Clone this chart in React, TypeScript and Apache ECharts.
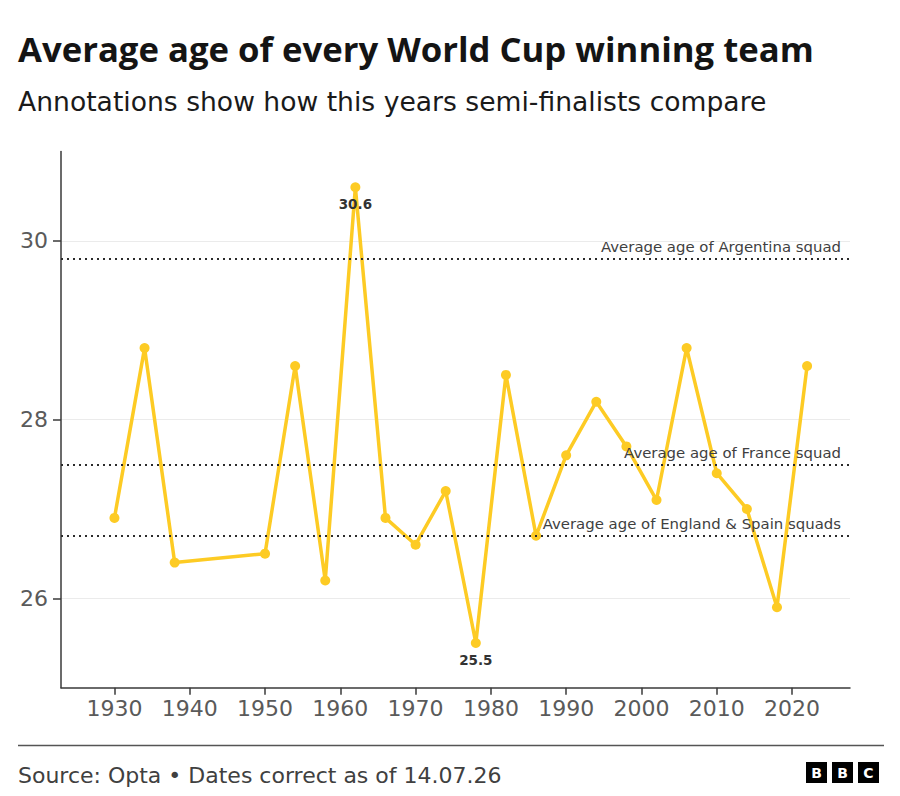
import React, { useEffect, useRef } from "react";
import * as echarts from "echarts";

const years = [1930, 1934, 1938, 1950, 1954, 1958, 1962, 1966, 1970, 1974, 1978, 1982, 1986, 1990, 1994, 1998, 2002, 2006, 2010, 2014, 2018, 2022];
const ages = [26.9, 28.8, 26.4, 26.5, 28.6, 26.2, 30.6, 26.9, 26.6, 27.2, 25.5, 28.5, 26.7, 27.6, 28.2, 27.7, 27.1, 28.8, 27.4, 27.0, 25.9, 28.6];
const labelledYears = [1962, 1978];

const refValues = [29.8, 27.5, 26.7];
const refLabels = ["Average age of Argentina squad", "Average age of France squad", "Average age of England & Spain squads"];

const xTicks = [1930, 1940, 1950, 1960, 1970, 1980, 1990, 2000, 2010, 2020];
const yTicks = [26, 28, 30];

const TITLE = "Average age of every World Cup winning team";
const SUBTITLE = "Annotations show how this years semi-finalists compare";
const SOURCE = "Source: Opta \u2022 Dates correct as of 14.07.26";

const TITLE_FONT = "'Open Sans', sans-serif";
const FONT = "'DejaVu Sans', sans-serif";

export default function App() {
  const ref = useRef<HTMLDivElement>(null);
  useEffect(() => {
    if (!ref.current) return;
    const chart = echarts.init(ref.current, undefined, { renderer: "svg" });
    const seriesData = years.map((y, i) => {
      const item: any = { value: [y, ages[i]] };
      if (labelledYears.includes(y)) {
        item.label = { show: true };
      }
      return item;
    });
    chart.setOption({
      animation: false,
      backgroundColor: "#ffffff",
      textStyle: { fontFamily: FONT },
      grid: {
        left: 61,
        right: 50,
        top: 151.5,
        bottom: 108.3,
        containLabel: false,
        outerBoundsMode: "none",
      },
      xAxis: {
        type: "value",
        min: 1922.9,
        max: 2027.7,
        axisLine: { show: true, lineStyle: { color: "#3a3a3a", width: 1.5 } },
        axisTick: { show: true, length: 7, customValues: xTicks, lineStyle: { color: "#3a3a3a", width: 1.5 } },
        axisLabel: {
          customValues: xTicks,
          fontSize: 22,
          color: "#5a5a5a",
          margin: 10,
          fontFamily: FONT,
          formatter: (v: number) => String(v),
        },
        splitLine: { show: false },
      },
      yAxis: {
        type: "value",
        min: 25,
        max: 31,
        axisLine: { show: true, lineStyle: { color: "#3a3a3a", width: 1.5 } },
        axisTick: { show: true, length: 8, customValues: yTicks, lineStyle: { color: "#3a3a3a", width: 1.5 } },
        axisLabel: {
          customValues: yTicks,
          fontSize: 22,
          color: "#5a5a5a",
          margin: 13,
          fontFamily: FONT,
          formatter: (v: number) => String(v),
        },
        splitLine: { show: true, lineStyle: { color: "#ebebeb", width: 1 } },
      },
      series: [
        {
          type: "line",
          data: seriesData,
          symbol: "circle",
          symbolSize: 10,
          showAllSymbol: true,
          itemStyle: { color: "#fdcb24" },
          lineStyle: { color: "#fdcb24", width: 3.5 },
          label: {
            show: false,
            position: "bottom",
            distance: 5,
            fontSize: 13.5,
            fontWeight: "bold",
            color: "#333333",
            fontFamily: FONT,
          },
          markLine: {
            silent: true,
            symbol: "none",
            animation: false,
            lineStyle: { color: "#2b2b2b", type: [2, 4], width: 2 },
            label: {
              position: "insideEndTop",
              fontSize: 14.9,
              color: "#404040",
              fontFamily: FONT,
              distance: [9, 4],
            },
            data: refValues.map((v, i) => ({
              yAxis: v,
              label: { formatter: refLabels[i] },
            })),
          },
        },
      ],
      graphic: [
        {
          type: "text",
          left: 18,
          top: 31,
          style: { text: TITLE, font: `bold 34.7px ${TITLE_FONT}`, fill: "#141414" },
        },
        {
          type: "text",
          left: 18,
          top: 87.8,
          style: { text: SUBTITLE, font: `26.6px ${FONT}`, fill: "#1a1a1a" },
        },
        {
          type: "line",
          shape: { x1: 18, y1: 745.5, x2: 884, y2: 745.5 },
          style: { stroke: "#555555", lineWidth: 1.5 },
        },
        {
          type: "text",
          left: 18,
          top: 764,
          style: { text: SOURCE, font: `22px ${FONT}`, fill: "#404040" },
        },
        ...["B", "B", "C"].flatMap((ch, i) => [
          {
            type: "rect",
            shape: { x: 806 + i * 26, y: 762, width: 21, height: 21 },
            style: { fill: "#000000" },
          },
          {
            type: "text",
            x: 806 + i * 26 + 10.5,
            y: 773,
            style: {
              text: ch,
              font: `bold 14px ${FONT}`,
              fill: "#ffffff",
              align: "center",
              verticalAlign: "middle",
            },
          },
        ]),
      ],
    });
    return () => chart.dispose();
  }, []);
  return (
    <div
      ref={ref}
      style={{ position: "fixed", left: 0, top: 0, width: 900, height: 796 }}
    />
  );
}
